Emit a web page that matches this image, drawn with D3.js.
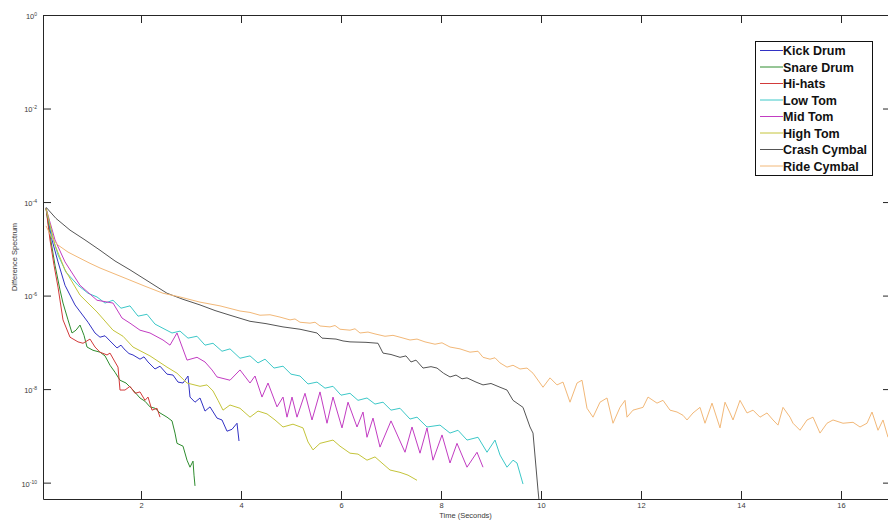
<!DOCTYPE html>
<html>
<head>
<meta charset="utf-8">
<script src="https://cdn.jsdelivr.net/npm/d3@7"></script>
<style>
  body { margin: 0; background: #fff; }
  svg { display: block; font-family: "Liberation Sans", Arial, sans-serif; }
</style>
</head>
<body>
<script>
// difference spectrum decay per instrument
// each point: [time in seconds, log10 of the difference spectrum]
const kickDrum = [
  [0.10, -4.13], [0.22, -4.81], [0.34, -5.28], [0.48, -5.78], [0.68, -6.20], [0.94, -6.57],
  [1.08, -6.80], [1.18, -6.89], [1.28, -6.86], [1.38, -6.97], [1.52, -7.12], [1.60, -7.06],
  [1.66, -7.14], [1.76, -7.24], [1.84, -7.27], [1.98, -7.36], [2.06, -7.31], [2.14, -7.42],
  [2.28, -7.57], [2.38, -7.51], [2.52, -7.68], [2.64, -7.70], [2.74, -7.85], [2.84, -7.87],
  [2.94, -7.72], [2.98, -8.17], [3.08, -8.28], [3.18, -8.19], [3.28, -8.47], [3.38, -8.38],
  [3.52, -8.62], [3.62, -8.66], [3.72, -8.90], [3.82, -8.86], [3.92, -8.73], [3.96, -9.11]
]

const snareDrum = [
  [0.10, -4.13], [0.18, -4.71], [0.28, -5.35], [0.38, -5.88], [0.44, -6.16], [0.54, -6.52],
  [0.62, -6.80], [0.70, -6.74], [0.78, -6.63], [0.86, -6.85], [0.92, -7.10], [1.04, -7.17],
  [1.18, -7.21], [1.28, -7.29], [1.38, -7.49], [1.48, -7.64], [1.58, -7.81], [1.70, -7.87],
  [1.84, -8.02], [1.98, -8.19], [2.08, -8.26], [2.18, -8.38], [2.28, -8.41], [2.38, -8.51],
  [2.52, -8.60], [2.62, -8.68], [2.68, -8.94], [2.72, -9.16], [2.84, -9.22], [2.92, -9.52],
  [2.98, -9.67], [3.04, -9.54], [3.06, -9.84], [3.08, -10.07]
]

const hiHats = [
  [0.10, -4.13], [0.18, -4.81], [0.26, -5.35], [0.34, -5.82], [0.44, -6.52], [0.58, -6.89],
  [0.74, -6.99], [0.84, -7.02], [0.98, -6.93], [1.08, -7.10], [1.18, -7.21], [1.32, -7.27],
  [1.38, -7.23], [1.48, -7.42], [1.54, -7.53], [1.58, -8.02], [1.68, -8.02], [1.78, -7.94],
  [1.88, -8.09], [1.98, -8.06], [2.08, -8.24], [2.14, -8.17], [2.22, -8.45], [2.32, -8.41],
  [2.38, -8.60]
]

const lowTom = [
  [0.10, -4.13], [0.22, -4.71], [0.34, -5.13], [0.50, -5.50], [0.74, -5.78], [0.94, -5.95],
  [1.12, -6.03], [1.28, -6.16], [1.44, -6.10], [1.60, -6.27], [1.78, -6.22], [1.94, -6.44],
  [2.12, -6.40], [2.28, -6.61], [2.44, -6.70], [2.62, -6.80], [2.78, -6.76], [2.94, -6.91],
  [3.12, -6.87], [3.28, -7.06], [3.44, -7.02], [3.62, -7.19], [3.78, -7.14], [3.98, -7.34],
  [4.18, -7.29], [4.34, -7.44], [4.48, -7.36], [4.66, -7.55], [4.84, -7.51], [5.00, -7.68],
  [5.18, -7.72], [5.34, -7.89], [5.52, -7.85], [5.68, -7.98], [5.84, -7.94], [6.00, -8.13],
  [6.18, -8.09], [6.34, -8.24], [6.52, -8.19], [6.68, -8.32], [6.84, -8.28], [7.00, -8.45],
  [7.18, -8.41], [7.38, -8.64], [7.52, -8.60], [7.72, -8.81], [7.98, -8.77], [8.18, -8.94],
  [8.34, -8.88], [8.52, -9.09], [8.74, -9.03], [8.92, -9.35], [9.08, -9.09], [9.18, -9.41],
  [9.32, -9.67], [9.44, -9.52], [9.52, -9.58], [9.64, -10.03]
]

const midTom = [
  [0.10, -4.13], [0.28, -4.81], [0.48, -5.28], [0.78, -5.78], [1.12, -6.10], [1.44, -6.16],
  [1.62, -6.48], [1.78, -6.59], [1.98, -6.74], [2.18, -6.80], [2.44, -6.95], [2.58, -7.06],
  [2.72, -6.80], [2.92, -7.38], [3.12, -7.32], [3.28, -7.42], [3.42, -7.59], [3.52, -7.74],
  [3.78, -7.81], [3.98, -7.59], [4.18, -7.87], [4.28, -7.72], [4.42, -8.17], [4.54, -7.87],
  [4.72, -8.38], [4.84, -8.17], [4.92, -8.60], [5.02, -8.17], [5.12, -8.60], [5.28, -8.09],
  [5.42, -8.66], [5.58, -8.06], [5.72, -8.73], [5.84, -8.17], [6.02, -8.83], [6.14, -8.28],
  [6.32, -8.81], [6.44, -8.49], [6.52, -9.03], [6.64, -8.62], [6.78, -9.24], [7.00, -8.68],
  [7.28, -9.35], [7.42, -8.81], [7.58, -9.37], [7.72, -8.83], [7.84, -9.52], [8.02, -8.98],
  [8.18, -9.58], [8.32, -9.16], [8.52, -9.67], [8.72, -9.35], [8.84, -9.67]
]

const highTom = [
  [0.10, -4.13], [0.28, -4.92], [0.48, -5.45], [0.78, -5.99], [1.12, -6.35], [1.44, -6.74],
  [1.64, -6.87], [1.84, -7.10], [2.18, -7.29], [2.52, -7.53], [2.72, -7.66], [2.92, -7.87],
  [3.18, -7.94], [3.32, -7.91], [3.44, -8.04], [3.54, -8.24], [3.64, -8.45], [3.78, -8.34],
  [3.98, -8.41], [4.18, -8.60], [4.34, -8.47], [4.52, -8.53], [4.68, -8.66], [4.84, -8.81],
  [5.04, -8.75], [5.24, -8.83], [5.34, -9.13], [5.44, -9.30], [5.58, -9.16], [5.84, -9.09],
  [5.98, -9.22], [6.18, -9.37], [6.34, -9.39], [6.52, -9.52], [6.68, -9.45], [6.84, -9.60],
  [6.98, -9.73], [7.18, -9.78], [7.34, -9.84], [7.52, -9.95]
]

const crashCymbal = [
  [0.10, -4.11], [0.30, -4.35], [0.58, -4.60], [0.88, -4.81], [1.18, -5.03], [1.48, -5.26],
  [1.78, -5.45], [2.18, -5.72], [2.52, -5.95], [2.84, -6.08], [3.18, -6.20], [3.48, -6.32],
  [3.78, -6.42], [4.18, -6.55], [4.50, -6.60], [4.84, -6.67], [5.18, -6.72], [5.52, -6.80],
  [5.62, -6.91], [5.90, -6.93], [6.04, -6.97], [6.18, -6.99], [6.50, -7.00], [6.74, -7.02],
  [6.84, -7.23], [7.00, -7.26], [7.18, -7.32], [7.30, -7.29], [7.40, -7.42], [7.50, -7.38],
  [7.64, -7.55], [7.80, -7.52], [7.92, -7.55], [8.05, -7.66], [8.18, -7.74], [8.30, -7.70],
  [8.42, -7.78], [8.52, -7.76], [8.70, -7.85], [8.84, -7.91], [9.00, -7.88], [9.18, -7.96],
  [9.32, -8.02], [9.44, -8.24], [9.64, -8.39], [9.78, -8.81], [9.84, -8.94], [9.94, -10.16],
  [9.98, -10.60]
]

const rideCymbal = [
  [0.10, -4.51], [0.22, -4.77], [0.34, -4.92], [0.54, -5.07], [0.74, -5.18], [0.98, -5.31],
  [1.18, -5.41], [1.48, -5.54], [1.78, -5.67], [2.08, -5.80], [2.44, -5.95], [2.78, -6.03],
  [3.18, -6.14], [3.58, -6.22], [3.98, -6.33], [4.18, -6.36], [4.38, -6.42], [4.58, -6.41],
  [4.78, -6.46], [4.98, -6.52], [5.08, -6.50], [5.18, -6.57], [5.38, -6.59], [5.48, -6.57],
  [5.58, -6.65], [5.78, -6.67], [5.88, -6.64], [5.98, -6.72], [6.18, -6.74], [6.28, -6.71],
  [6.38, -6.80], [6.54, -6.78], [6.68, -6.82], [6.88, -6.87], [7.04, -6.85], [7.18, -6.89],
  [7.38, -6.95], [7.52, -6.93], [7.68, -6.99], [7.88, -7.04], [8.02, -7.01], [8.18, -7.10],
  [8.38, -7.14], [8.58, -7.21], [8.74, -7.19], [8.84, -7.32], [8.98, -7.36], [9.08, -7.33],
  [9.18, -7.44], [9.32, -7.53], [9.44, -7.49], [9.58, -7.57], [9.72, -7.55], [9.84, -7.66],
  [10.04, -7.96], [10.18, -7.76], [10.32, -7.91], [10.44, -7.85], [10.58, -8.28], [10.72, -7.87],
  [10.82, -7.81], [10.92, -8.41], [11.04, -8.60], [11.18, -8.28], [11.32, -8.19], [11.44, -8.73],
  [11.58, -8.39], [11.68, -8.24], [11.72, -8.60], [11.84, -8.45], [12.04, -8.39], [12.14, -8.17],
  [12.32, -8.30], [12.44, -8.24], [12.58, -8.45], [12.72, -8.49], [12.84, -8.56], [12.92, -8.66],
  [13.04, -8.51], [13.18, -8.39], [13.28, -8.73], [13.42, -8.30], [13.58, -8.83], [13.68, -8.28],
  [13.78, -8.51], [13.84, -8.66], [13.98, -8.24], [14.12, -8.51], [14.24, -8.45], [14.38, -8.60],
  [14.52, -8.51], [14.64, -8.66], [14.74, -8.77], [14.84, -8.39], [14.98, -8.60], [15.04, -8.73],
  [15.18, -8.88], [15.32, -8.66], [15.44, -8.60], [15.58, -8.94], [15.72, -8.73], [15.84, -8.66],
  [16.04, -8.73], [16.24, -8.71], [16.38, -8.81], [16.52, -8.73], [16.62, -8.49], [16.74, -8.88],
  [16.84, -8.66], [16.94, -9.03]
]

const seriesNames = ['Kick Drum', 'Snare Drum', 'Hi-hats', 'Low Tom', 'Mid Tom', 'High Tom', 'Crash Cymbal', 'Ride Cymbal']
const seriesData = [kickDrum, snareDrum, hiHats, lowTom, midTom, highTom, crashCymbal, rideCymbal]
const seriesColors = ['#3232c4', '#2e8c2e', '#d23a3a', '#3cc8c8', '#c23cc2', '#c4c43a', '#555555', '#f2b878']

const xTickValues = [2, 4, 6, 8, 10, 12, 14, 16]
const yTickExponents = [0, -2, -4, -6, -8, -10]

// plot area
const w = 888
const h = 522
const plot = { left: 43, right: 891, top: 15, bottom: 499 }

const svg = d3.select('body')
  .append('svg')
  .attr('width', w)
  .attr('height', h)

const xScale = d3.scaleLinear()
  .domain([0.04, 17.0])
  .range([plot.left, plot.right])

const yScale = d3.scaleLog()
  .domain([Math.pow(10, -10.35), 1])
  .range([plot.bottom, plot.top])

svg.append('clipPath')
  .attr('id', 'plotClip')
  .append('rect')
  .attr('x', plot.left)
  .attr('y', plot.top)
  .attr('width', plot.right - plot.left)
  .attr('height', plot.bottom - plot.top)

// curves
const line = d3.line()
  .x(d => xScale(d[0]))
  .y(d => yScale(Math.pow(10, d[1])))

svg.append('g')
  .attr('clip-path', 'url(#plotClip)')
  .selectAll('path')
  .data(seriesData)
  .enter()
  .append('path')
  .attr('d', d => line(d))
  .style('fill', 'none')
  .style('stroke', (d, i) => seriesColors[i])
  .style('stroke-width', '1px')
  .style('stroke-linejoin', 'round')

// axes: ticks point inward on all four sides
const yTickValues = yTickExponents.map(e => Math.pow(10, e))

const xAxis = d3.axisBottom(xScale)
  .tickValues(xTickValues)
  .tickSize(-8)
  .tickSizeOuter(0)
  .tickPadding(4)
  .tickFormat(d3.format('d'))

const xAxisTop = d3.axisTop(xScale)
  .tickValues(xTickValues)
  .tickSize(-8)
  .tickSizeOuter(0)
  .tickFormat('')

const yAxis = d3.axisLeft(yScale)
  .tickValues(yTickValues)
  .tickSize(-8)
  .tickSizeOuter(0)
  .tickPadding(8)
  .tickFormat('')

const yAxisRight = d3.axisRight(yScale)
  .tickValues(yTickValues)
  .tickSize(-8)
  .tickSizeOuter(0)
  .tickFormat('')

const gx = svg.append('g')
  .attr('transform', `translate(0,${plot.bottom})`)
  .call(xAxis)

svg.append('g')
  .attr('transform', `translate(0,${plot.top})`)
  .call(xAxisTop)

const gy = svg.append('g')
  .attr('transform', `translate(${plot.left},0)`)
  .call(yAxis)

svg.append('g')
  .attr('transform', `translate(${plot.right},0)`)
  .call(yAxisRight)

svg.selectAll('.domain, .tick line')
  .style('stroke', '#262626')
  .style('stroke-width', '1px')

gx.selectAll('.tick text')
  .style('font-size', '7.5px')
  .style('fill', '#3a3a3a')

// power-of-ten labels on the y axis
gy.selectAll('.tick text')
  .style('font-size', '7.5px')
  .style('fill', '#3a3a3a')
  .attr('x', -6)
  .attr('dy', '0.45em')
  .each(function(d) {
    const t = d3.select(this)
    t.append('tspan').text('10')
    t.append('tspan')
      .attr('dy', '-0.6em')
      .style('font-size', '5px')
      .text(Math.round(Math.log10(d)))
  })

// axis titles
svg.append('text')
  .attr('x', (plot.left + 888) / 2)
  .attr('y', 518)
  .attr('text-anchor', 'middle')
  .style('font-size', '7.5px')
  .style('fill', '#3a3a3a')
  .text('Time (Seconds)')

svg.append('text')
  .attr('transform', `translate(17,${(plot.top + plot.bottom) / 2}) rotate(-90)`)
  .attr('text-anchor', 'middle')
  .style('font-size', '7.5px')
  .style('fill', '#3a3a3a')
  .text('Difference Spectrum')

// legend
const legend = svg.append('g')
  .attr('transform', 'translate(755,41)')

legend.append('rect')
  .attr('x', 0.5)
  .attr('y', 0.5)
  .attr('width', 117)
  .attr('height', 134)
  .style('fill', '#fff')
  .style('stroke', '#111')
  .style('stroke-width', '1px')

const rowH = 16.5

legend.selectAll('g.item')
  .data(seriesNames)
  .enter()
  .append('g')
  .attr('class', 'item')
  .attr('transform', (d, i) => `translate(0,${9.5 + i * rowH})`)
  .each(function(d, i) {
    d3.select(this)
      .append('line')
      .attr('x1', 5)
      .attr('x2', 28)
      .attr('y1', 0)
      .attr('y2', 0)
      .style('stroke', seriesColors[i])
      .style('stroke-width', '1px')

    d3.select(this)
      .append('text')
      .attr('x', 28)
      .attr('y', 0)
      .attr('dy', '0.36em')
      .style('font-size', '12.5px')
      .style('font-weight', 'bold')
      .style('fill', '#111')
      .text(d)
  })
</script>
</body>
</html>
